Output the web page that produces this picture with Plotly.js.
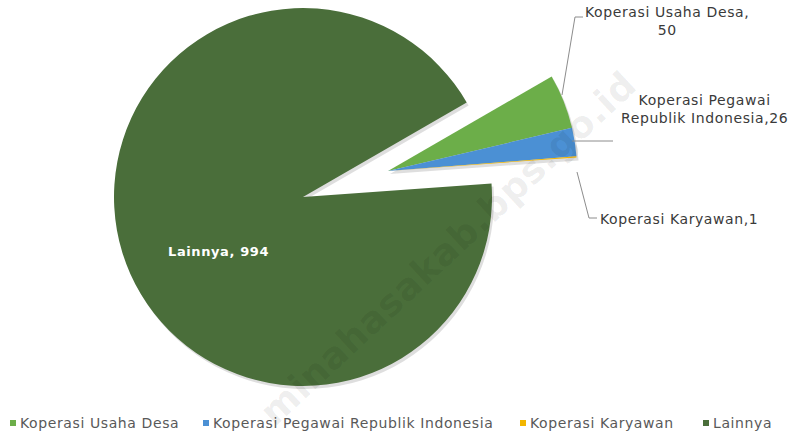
<!DOCTYPE html>
<html>
<head>
<meta charset="utf-8">
<script src="https://cdn.plot.ly/plotly-3.0.1.min.js"></script>
<style>
  html, body { margin: 0; padding: 0; width: 790px; height: 434px; overflow: hidden; background: #ffffff; }
  #chart { position: absolute; left: 0; top: -40px; width: 790px; height: 474px; }
  .annotation-text { letter-spacing: 0.6px; }
</style>
</head>
<body>
<div id="chart"></div>
<script>
// ---- data ----
const categories = ['Koperasi Usaha Desa', 'Koperasi Pegawai Republik Indonesia', 'Koperasi Karyawan', 'Lainnya'];
const values = [50, 26, 1, 994];
const colors = ['#6cae49', '#4b90d4', '#f2b600', '#4a6e3a'];
const watermark = 'minahasakab.bps.go.id';

// ---- geometry helpers (screen px -> paper) ----
const W = 790, H = 474, OFF = 40;
const px = (x) => x / W;
const py = (y) => (H - (y + OFF)) / H;
function domainFor(cx, cy, r) {
  return { x: [px(cx - r), px(cx + r)], y: [py(cy + r), py(cy - r)] };
}

const R = 189;
const mainC = [303, 197];
const pulledC = [388, 171];
const TRANSP = 'rgba(0,0,0,0)';

const isMain = categories.map((c, i) => i === categories.length - 1);
const mainColors = colors.map((c, i) => isMain[i] ? c : TRANSP);
const pulledColors = colors.map((c, i) => isMain[i] ? TRANSP : c);
const shadowMain = colors.map((c, i) => isMain[i] ? 'rgba(0,0,0,0.13)' : TRANSP);
const shadowPulled = colors.map((c, i) => isMain[i] ? TRANSP : 'rgba(0,0,0,0.13)');

function pieTrace(center, cols) {
  return {
    type: 'pie',
    labels: categories,
    values: values,
    sort: false,
    direction: 'clockwise',
    rotation: 60,
    textinfo: 'none',
    hoverinfo: 'none',
    showlegend: false,
    marker: { colors: cols, line: { width: 0 } },
    domain: domainFor(center[0], center[1], R)
  };
}

const data = [
  pieTrace([mainC[0] + 2, mainC[1] + 3], shadowMain),
  pieTrace([pulledC[0] + 2, pulledC[1] + 3], shadowPulled),
  pieTrace(mainC, mainColors),
  pieTrace(pulledC, pulledColors)
];

// ---- labels ----
const words1 = categories[1].split(' ');
const labelTexts = [
  categories[0] + ',<br>' + values[0],
  words1.slice(0, 2).join(' ') + '<br>' + words1.slice(2).join(' ') + ',' + values[1],
  categories[2] + ',' + values[2],
  categories[3] + ', ' + values[3]
];
const labelPos = [[667, 21], [704, 109], [679, 219], [219, 251]];
const textFont = 'DejaVu Sans, sans-serif';

const annotations = labelTexts.map((t, i) => ({
  xref: 'paper', yref: 'paper',
  x: px(labelPos[i][0]), y: py(labelPos[i][1]),
  xanchor: 'center', yanchor: 'middle',
  text: i === 3 ? '<b>' + t + '</b>' : t,
  showarrow: false,
  align: 'center',
  font: { family: textFont, size: i === 3 ? 13 : 14, color: i === 3 ? '#ffffff' : '#3a3a3a' }
}));

// leader lines
const leaders = [
  [[562, 95], [575, 17], [583, 17]],
  [[572, 141], [613, 141]],
  [[577, 172], [589, 218], [597, 218]]
];
const shapes = [];
leaders.forEach(pts => {
  for (let k = 0; k < pts.length - 1; k++) {
    shapes.push({
      type: 'line', xref: 'paper', yref: 'paper',
      x0: px(pts[k][0]), y0: py(pts[k][1]), x1: px(pts[k + 1][0]), y1: py(pts[k + 1][1]),
      line: { color: '#8c8c8c', width: 1 }
    });
  }
});

// legend (custom, bottom)
const legendX = [10, 203, 520, 703];
const legendY = 423;
categories.forEach((c, i) => {
  shapes.push({
    type: 'rect', xref: 'paper', yref: 'paper',
    x0: px(legendX[i]), x1: px(legendX[i] + 6), y0: py(legendY + 3), y1: py(legendY - 3),
    fillcolor: colors[i], line: { width: 0 }
  });
  annotations.push({
    xref: 'paper', yref: 'paper',
    x: px(legendX[i] + 8), y: py(legendY),
    xanchor: 'left', yanchor: 'middle',
    text: c, showarrow: false,
    font: { family: textFont, size: 14, color: '#595959' }
  });
});

// watermark
annotations.push({
  xref: 'paper', yref: 'paper',
  x: px(448), y: py(248),
  xanchor: 'center', yanchor: 'middle',
  text: '<b>' + watermark + '</b>', showarrow: false,
  textangle: -43,
  font: { family: textFont, size: 37, color: 'rgba(0,0,0,0.07)' }
});

const layout = {
  width: W, height: H,
  margin: { l: 0, r: 0, t: 0, b: 0 },
  paper_bgcolor: '#ffffff',
  plot_bgcolor: '#ffffff',
  showlegend: false,
  annotations: annotations,
  shapes: shapes
};

Plotly.newPlot('chart', data, layout, { displayModeBar: false, staticPlot: true });
</script>
</body>
</html>
